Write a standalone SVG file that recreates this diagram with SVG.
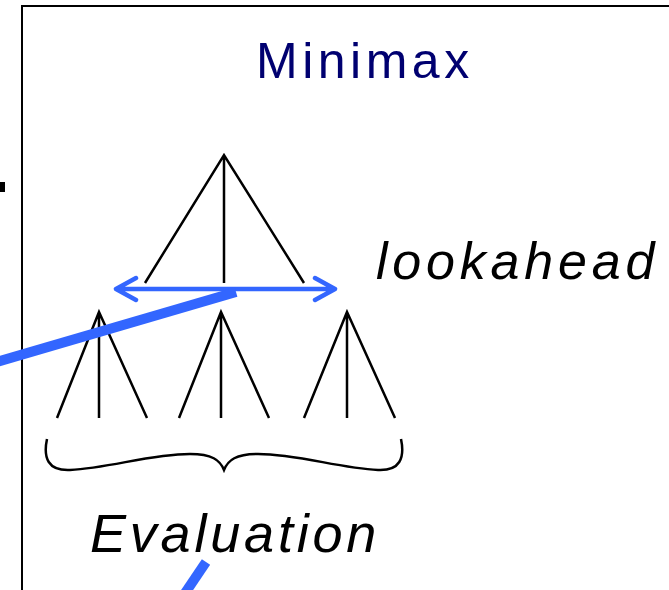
<svg xmlns="http://www.w3.org/2000/svg" width="669" height="590" viewBox="0 0 669 590">
<style>
.tree{stroke:#000;stroke-width:2.5;fill:none;stroke-linecap:butt}
.blue{stroke:#3366FF;fill:none}
.lbl{font-family:"Liberation Sans",Arial,sans-serif}
</style>
<rect width="669" height="590" fill="#fff"/>
<g id="frame">
<path d="M22 595 V6 H675" fill="none" stroke="#000" stroke-width="2"/>
<rect x="0" y="182" width="5" height="10" fill="#000"/>
</g>
<g id="title"><text class="lbl" x="256" y="78" font-size="50" letter-spacing="4.5" fill="#000070">Minimax</text></g>
<g id="top-tree" class="tree">
<path d="M145 283 L224 155 L304 283 M224 155 V283"/>
</g>
<g id="subtree1" class="tree"><path d="M57 418 L99 312 L147 418 M99 312 V418"/></g>
<g id="subtree2" class="tree"><path d="M179 418 L221 312 L269 418 M221 312 V418"/></g>
<g id="subtree3" class="tree"><path d="M304 418 L347 312 L395 418 M347 312 V418"/></g>
<g id="lookahead-label"><text class="lbl" x="376" y="279" font-size="52" font-style="italic" letter-spacing="4.8" fill="#000">lookahead</text></g>
<g id="brace"><path d="M47 439 C43 458 48 471 70 470 C110 468 150 454 190 454 C212 454 220 460 224 470 C228 460 236 454 258 454 C298 454 338 468 378 470 C400 471 405 458 401 439" fill="none" stroke="#000" stroke-width="2.5"/></g>
<g id="evaluation-label"><text class="lbl" x="90" y="552" font-size="54" font-style="italic" letter-spacing="3.8" fill="#000">Evaluation</text></g>
<g id="connectors">
<path class="blue" d="M116 289 H335 M136 278 L116 289 L136 300 M315 278 L335 289 L315 300" stroke-width="4.5" stroke-linecap="round" stroke-linejoin="round"/>
<path class="blue" d="M236 292 L-10 364" stroke-width="10"/>
<path class="blue" d="M206 562 L175 608" stroke-width="10"/>
</g>
</svg>
